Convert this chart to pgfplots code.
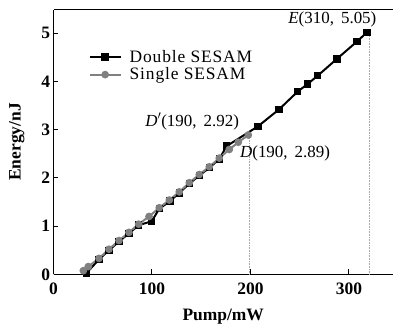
\documentclass[border=0pt]{standalone}
\usepackage{fontspec}
\setmainfont{Liberation Serif}
\newfontfamily\legfont[LetterSpace=5]{Liberation Serif}
\usepackage{pgfplots}
\pgfplotsset{compat=1.18}
\definecolor{sgray}{RGB}{128,128,128}
\begin{document}
\begin{tikzpicture}
\begin{axis}[
  scale only axis,
  width=339.5bp, height=264.6bp,
  xmin=0, xmax=344.7, ymin=0, ymax=5.49,
  axis x line*=box, axis y line*=left,
  xtick={0,100,200,300}, ytick={0,1,2,3,4,5},
  xtick pos=bottom,
  tick align=inside,
  major tick length=5bp,
  axis line style={line width=1.3pt},
  tick style={line width=1pt, black},
  /pgf/number format/assume math mode=true,
  ticklabel style={font=\bfseries\fontsize{17.5}{18}\selectfont},
  xticklabel style={yshift=-5bp},
  xlabel={\textbf{Pump/mW}},
  ylabel={\textbf{Energy/nJ}},
  label style={font=\fontsize{17.5}{18}\selectfont},
  xlabel style={yshift=-8bp},
  ylabel style={yshift=10bp},
  legend style={draw=none, fill=none, at={(rel axis cs:0.103,0.855)}, anchor=north west,
    font=\legfont\fontsize{17.5}{18}\selectfont, row sep=0bp, inner sep=0pt},
  legend cell align=left,
  legend image code/.code={\draw[mark repeat=2,mark phase=2,#1] plot coordinates {(0bp,0bp) (15.5bp,0bp) (31bp,0bp)}; \path (37bp,0bp);},
  clip=false,
]
\addplot[black, line width=2pt, mark=square*, mark size=2.7bp] coordinates {
(33.7,0.03) (46.2,0.31) (56.3,0.50) (66.5,0.68) (76.6,0.85) (86.5,1.02) (99.7,1.10) (107.4,1.36) (118.3,1.52) (127.7,1.69) (137.9,1.88) (148,2.05) (158.2,2.21) (168.3,2.39) (175.8,2.66) (207.6,3.07) (228.9,3.42) (247.9,3.79) (258.1,3.95) (268.2,4.12) (287.8,4.47) (308.1,4.83) (318.3,5.02)
};
\addlegendentry{Double SESAM}
\addplot[sgray, line width=2pt, mark=*, mark size=2.8bp] coordinates {
(30.3,0.075) (35.3,0.16) (46.2,0.33) (56.3,0.52) (66.5,0.70) (76.6,0.87) (86.5,1.04) (97,1.20) (107.4,1.38) (117.6,1.54) (127.7,1.71) (137.9,1.90) (148,2.07) (158.2,2.23) (168.3,2.41) (178.5,2.59) (187.6,2.74) (197.8,2.89)
};
\addlegendentry{Single SESAM}
\addplot[gray!70, densely dotted, line width=0.6pt, forget plot] coordinates {(199,0) (199,2.87)};
\addplot[gray!70, densely dotted, line width=0.6pt, forget plot] coordinates {(320.5,0) (320.5,5.0)};
\node[anchor=east, inner sep=0pt, font=\fontsize{17}{17}\selectfont] at (axis cs:328,5.28) {\textit{E}(310,\, 5.05)};
\node[anchor=west, inner sep=0pt, font=\fontsize{17}{17}\selectfont] at (axis cs:93,3.17) {\textit{D}$'$(190,\, 2.92)};
\node[anchor=west, inner sep=0pt, font=\fontsize{17}{17}\selectfont] at (axis cs:189.3,2.51) {\textit{D}(190,\, 2.89)};
\end{axis}
\pgfresetboundingbox
\path[use as bounding box] ([xshift=-53.5bp,yshift=-50.7bp]current axis.south west) rectangle ([yshift=9.7bp]current axis.north east);
\end{tikzpicture}
\end{document}
